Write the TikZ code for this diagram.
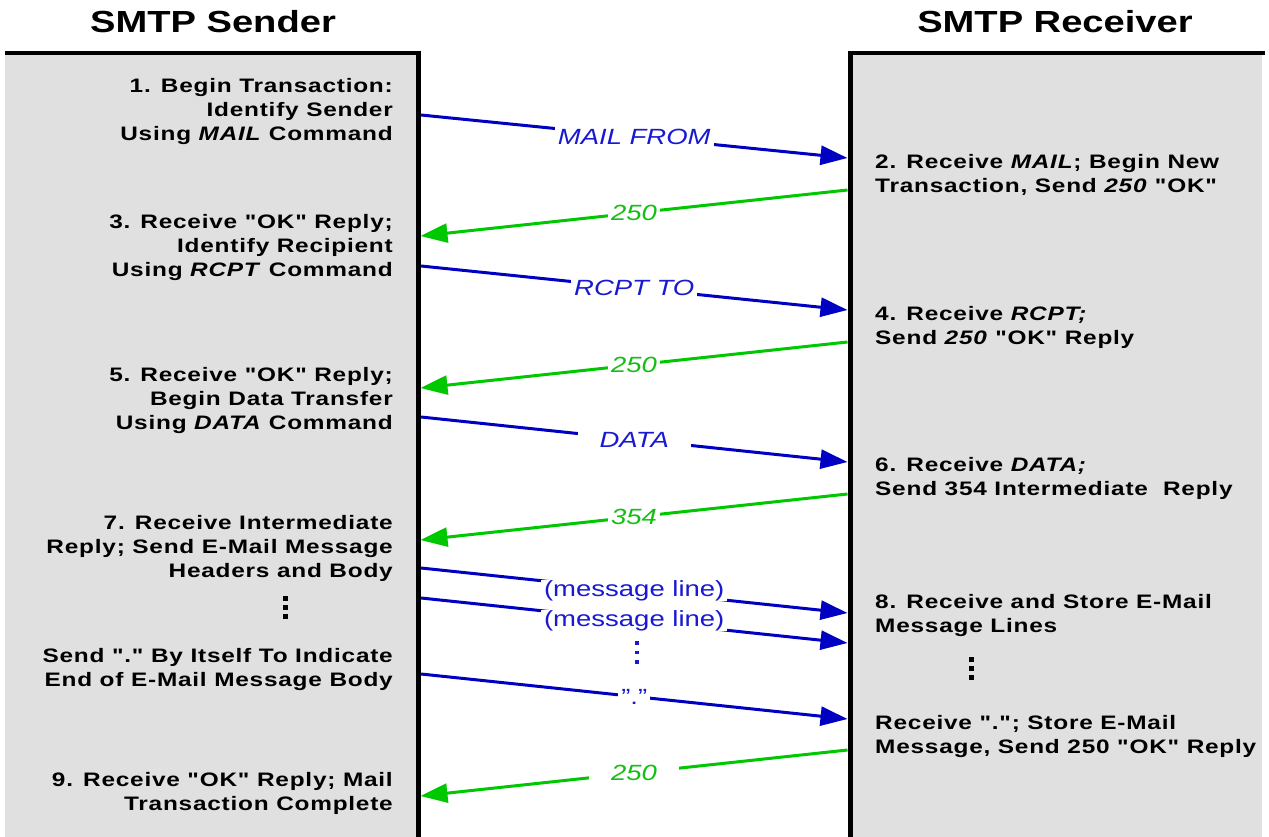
\documentclass[tikz,border=0pt]{standalone}
\usepackage{fontspec}
\setmainfont{Liberation Sans}[FakeStretch=1.25]
\newfontfamily\bodyfont{Liberation Sans}[FakeStretch=1.25,LetterSpace=4]
\usetikzlibrary{arrows.meta}
\definecolor{panelgray}{RGB}{224,224,224}
\definecolor{arrblue}{RGB}{0,0,195}
\definecolor{txtblue}{RGB}{25,25,210}
\definecolor{arrgreen}{RGB}{0,200,0}
\definecolor{txtgreen}{RGB}{20,190,20}
\tikzset{
  title/.style={inner sep=0pt,font=\bfseries\fontsize{30.5}{36}\selectfont},
  lt/.style={anchor=east,align=right,inner sep=0pt,font=\bodyfont\bfseries\fontsize{19.5}{24}\selectfont},
  rt/.style={anchor=west,align=left,inner sep=0pt,font=\bodyfont\bfseries\fontsize{19.5}{24}\selectfont},
  border/.style={line width=5pt,black},
  topborder/.style={line width=4pt,black},
  msg/.style={line width=3pt,arrblue,-{Triangle[length=27pt,width=19pt]}},
  rep/.style={line width=3pt,arrgreen,-{Triangle[length=27pt,width=19pt]}},
  blab/.style={midway,fill=white,text=txtblue,inner xsep=3pt,inner ysep=2pt,font=\fontsize{22}{24}\selectfont},
  glab/.style={midway,fill=white,text=txtgreen,inner xsep=3pt,inner ysep=2pt,font=\itshape\fontsize{22}{24}\selectfont},
}
\begin{document}
\begin{tikzpicture}[x=1pt,y=-1pt]
\useasboundingbox (0,0) rectangle (1269,837);
\fill[white] (0,0) rectangle (1269,837);
% panels
\fill[panelgray] (5,53) rectangle (418,837);
\fill[panelgray] (850,53) rectangle (1262,837);
\draw[topborder] (5,53) -- (421,53);
\draw[topborder] (848,53) -- (1265,53);
\draw[border] (418,51) -- (418,840);
\draw[border] (850,51) -- (850,840);
% titles
\node[title] (ts) at (213,22) {SMTP Sender};
\node[title] (tr) at (1055,22) {SMTP Receiver};
% left texts
\node[lt] (n1) at (393,112) {1. Begin Transaction:\\Identify Sender\\Using \textit{MAIL} Command};
\node[lt] (n3) at (393,248) {3. Receive "OK" Reply;\\Identify Recipient\\Using \textit{RCPT} Command};
\node[lt] (n5) at (393,400) {5. Receive "OK" Reply;\\Begin Data Transfer\\Using \textit{DATA} Command};
\node[lt] (n7) at (393,548) {7. Receive Intermediate\\Reply; Send E-Mail Message\\Headers and Body};
\node[lt] (ns) at (393,669) {Send "." By Itself To Indicate\\End of E-Mail Message Body};
\node[lt] (n9) at (393,793) {9. Receive "OK" Reply; Mail\\Transaction Complete};
% right texts
\node[rt] (n2) at (875,175) {2. Receive \textit{MAIL}; Begin New\\Transaction, Send \textit{250} "OK"};
\node[rt] (n4) at (875,327) {4. Receive \textit{RCPT;}\\Send \textit{250} "OK" Reply};
\node[rt] (n6) at (875,478) {6. Receive \textit{DATA;}\\Send 354 Intermediate\ \ Reply};
\node[rt] (n8) at (875,615) {8. Receive and Store E-Mail\\Message Lines};
\node[rt] (nr) at (875,736) {Receive "."; Store E-Mail\\Message, Send 250 "OK" Reply};
% vertical dots
\foreach \yy in {598,607,616} \fill[black] (282.5,\yy-2.5) rectangle ++(5,5);
\foreach \yy in {659,668,677} \fill[black] (968.5,\yy-2.5) rectangle ++(5,5);
\foreach \yy in {643,652.5,662} \fill[txtblue] (635.2,\yy-1.8) rectangle ++(3.6,3.6);
% connector end points on the lifelines
\coordinate (L1) at (421,115);  \coordinate (R1) at (847.5,158);
\coordinate (R2) at (847.5,190); \coordinate (L2) at (420.5,236);
\coordinate (L3) at (421,266);  \coordinate (R3) at (847.5,310);
\coordinate (R4) at (847.5,342); \coordinate (L4) at (420.5,388);
\coordinate (L5) at (421,417);  \coordinate (R5) at (847.5,462);
\coordinate (R6) at (847.5,494); \coordinate (L6) at (420.5,540);
\coordinate (L7) at (421,568);  \coordinate (R7) at (847.5,613);
\coordinate (L8) at (421,598);  \coordinate (R8) at (847.5,643);
\coordinate (L9) at (421,674);  \coordinate (R9) at (847.5,719);
\coordinate (R10) at (847.5,750); \coordinate (L10) at (420.5,796);
% messages
\draw[msg] (L1) -- node[blab,font=\itshape\fontsize{22}{24}\selectfont] {MAIL FROM} (R1);
\draw[rep] (R2) -- node[glab] {250} (L2);
\draw[msg] (L3) -- node[blab,font=\itshape\fontsize{22}{24}\selectfont] {RCPT TO} (R3);
\draw[rep] (R4) -- node[glab] {250} (L4);
\draw[msg] (L5) -- node[blab,inner xsep=22pt,font=\itshape\fontsize{22}{24}\selectfont] {DATA} (R5);
\draw[rep] (R6) -- node[glab] {354} (L6);
\draw[msg] (L7) -- node[blab,inner ysep=0pt] {(message line)} (R7);
\draw[msg] (L8) -- node[blab,inner ysep=0pt] {(message line)} (R8);
\draw[msg] (L9) -- node[blab] {"."} (R9);
\draw[rep] (R10) -- node[glab,inner xsep=22pt] {250} (L10);
\end{tikzpicture}
\end{document}
